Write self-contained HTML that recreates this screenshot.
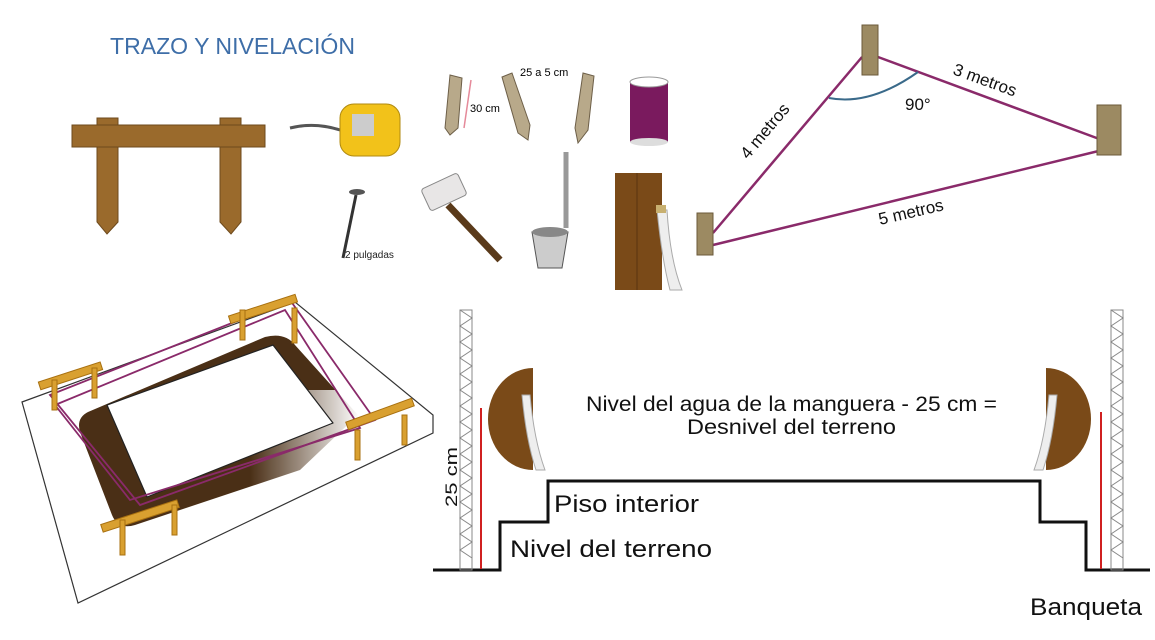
<!DOCTYPE html>
<html><head><meta charset="utf-8"><style>
html,body{margin:0;padding:0;background:#fff;}
svg{display:block;}
text{font-family:"Liberation Sans Narrow","Liberation Sans",sans-serif;}
</style></head><body>
<svg width="1155" height="640" viewBox="0 0 1155 640" xmlns="http://www.w3.org/2000/svg">
<defs>
<linearGradient id="fade" x1="0" y1="0" x2="1" y2="0">
<stop offset="0" stop-color="#fff" stop-opacity="0"/>
<stop offset="1" stop-color="#fff" stop-opacity="1"/>
</linearGradient>
</defs>
<rect width="1155" height="640" fill="#fff"/>
<!-- title -->
<text x="110" y="54" font-size="23" fill="#3e6ea8" textLength="245" lengthAdjust="spacingAndGlyphs">TRAZO Y NIVELACIÓN</text>
<!-- sawhorse -->
<g fill="#9a6a2c" stroke="#6e4a1c" stroke-width="1">
<polygon points="97,118 118,118 118,222 107,234 97,222"/>
<polygon points="220,118 241,118 241,222 231,234 220,222"/>
<rect x="72" y="125" width="193" height="22"/>
</g>
<!-- tape measure -->
<path d="M290,128 Q315,122 340,130" stroke="#555" stroke-width="3" fill="none"/>
<rect x="340" y="104" width="60" height="52" rx="14" fill="#f2c21a" stroke="#b08a10"/>
<rect x="352" y="114" width="22" height="22" fill="#ccc"/>
<!-- nail -->
<line x1="356" y1="195" x2="343" y2="258" stroke="#333" stroke-width="3"/>
<ellipse cx="357" cy="192" rx="8" ry="3" fill="#555"/>
<text x="345" y="258" font-size="10" fill="#222">2 pulgadas</text>
<!-- stakes -->
<g fill="#b8a98a" stroke="#6d5f48">
<polygon points="450,75 462,78 458,128 450,135 445,128"/>
<polygon points="502,77 512,73 530,125 528,140 518,133"/>
<polygon points="583,73 594,76 588,130 578,143 575,128"/>
</g>
<line x1="471" y1="80" x2="464" y2="128" stroke="#e58a9a" stroke-width="1.5"/>
<text x="470" y="112" font-size="11">30 cm</text>
<text x="520" y="76" font-size="11">25 a 5 cm</text>
<!-- spool -->
<rect x="630" y="82" width="38" height="60" fill="#7a1a5e"/>
<ellipse cx="649" cy="82" rx="19" ry="5" fill="#fff" stroke="#999"/>
<ellipse cx="649" cy="142" rx="19" ry="4" fill="#ddd"/>
<!-- hammer -->
<line x1="448" y1="205" x2="500" y2="260" stroke="#5a3a1a" stroke-width="7"/>
<rect x="424" y="180" width="40" height="24" rx="3" fill="#e8e6e6" stroke="#888" transform="rotate(-25 444 192)"/>
<!-- bucket -->
<path d="M566,152 L566,228" stroke="#999" stroke-width="5" fill="none"/>
<path d="M532,232 L568,232 L562,268 L538,268 Z" fill="#ccc" stroke="#555"/>
<ellipse cx="550" cy="232" rx="18" ry="5" fill="#888"/>
<!-- board + hose -->
<rect x="615" y="173" width="47" height="117" fill="#7a4a18"/>
<line x1="637" y1="173" x2="637" y2="290" stroke="#5a3410"/>
<path d="M657,210 Q662,260 670,290 L682,290 Q670,260 667,210 Z" fill="#eee" stroke="#aaa"/>
<rect x="656" y="205" width="10" height="8" fill="#c8b070"/>
<!-- triangle -->
<g stroke="#8a2a6a" stroke-width="2.5" fill="none">
<line x1="862" y1="57" x2="713" y2="233"/>
<line x1="878" y1="57" x2="1102" y2="140"/>
<line x1="713" y1="245" x2="1115" y2="147"/>
</g>
<path d="M829,98 Q870,106 918,72" stroke="#3a6a8a" stroke-width="2" fill="none"/>
<g fill="#9c8a62" stroke="#6b5a3a">
<rect x="862" y="25" width="16" height="50"/>
<rect x="1097" y="105" width="24" height="50"/>
<rect x="697" y="213" width="16" height="42"/>
</g>
<g font-size="17" fill="#111">
<text x="905" y="110">90°</text>
<text transform="translate(748,160) rotate(-50)">4 metros</text>
<text transform="translate(952,74) rotate(20)">3 metros</text>
<text transform="translate(880,225) rotate(-13)">5 metros</text>
</g>
<!-- 3D plot -->
<path d="M88,412 L265,337 Q285,332 295,345 L358,415 L300,470 L135,525 Q118,530 112,515 L80,432 Q76,418 88,412 Z" fill="#4a2f16"/>
<rect x="250" y="390" width="110" height="100" fill="url(#fade)"/>
<path d="M107,405 L273,345 L333,423 L147,497 Z" fill="#fff" stroke="#222" stroke-width="1.2" stroke-linejoin="round"/>
<polygon points="22,402 295,302 433,415 433,433 78,603" fill="none" stroke="#333" stroke-width="1.2"/>
<g stroke="#8a2a6a" stroke-width="1.8" fill="none">
<polygon points="50,395 290,300 375,420 140,505"/>
<polygon points="55,405 285,310 360,428 130,500"/>
</g>
<g fill="#d9a030" stroke="#a87010">
<rect x="38" y="372" width="65" height="8" transform="rotate(-18 70 376)"/>
<rect x="228" y="305" width="70" height="8" transform="rotate(-18 263 309)"/>
<rect x="345" y="410" width="70" height="8" transform="rotate(-20 380 414)"/>
<rect x="100" y="512" width="80" height="8" transform="rotate(-18 140 516)"/>
<rect x="52" y="380" width="5" height="30"/><rect x="92" y="368" width="5" height="30"/>
<rect x="240" y="310" width="5" height="30"/><rect x="292" y="308" width="5" height="35"/>
<rect x="355" y="430" width="5" height="30"/><rect x="402" y="415" width="5" height="30"/>
<rect x="120" y="520" width="5" height="35"/><rect x="172" y="505" width="5" height="30"/>
</g>
<!-- section diagram -->
<polyline points="433,570 500,570 500,522 548,522 548,481 1040,481 1040,522 1086,522 1086,570 1150,570" fill="none" stroke="#111" stroke-width="3"/>
<g stroke="#888" stroke-width="1" fill="none">
<rect x="460" y="310" width="12" height="260"/>
<rect x="1111" y="310" width="12" height="260"/>
<path d="M460,310 l12,8 l-12,8 l12,8 l-12,8 l12,8 l-12,8 l12,8 l-12,8 l12,8 l-12,8 l12,8 l-12,8 l12,8 l-12,8 l12,8 l-12,8 l12,8 l-12,8 l12,8 l-12,8 l12,8 l-12,8 l12,8 l-12,8 l12,8 l-12,8 l12,8 l-12,8 l12,8 l-12,8 l12,8"/>
<path d="M1111,310 l12,8 l-12,8 l12,8 l-12,8 l12,8 l-12,8 l12,8 l-12,8 l12,8 l-12,8 l12,8 l-12,8 l12,8 l-12,8 l12,8 l-12,8 l12,8 l-12,8 l12,8 l-12,8 l12,8 l-12,8 l12,8 l-12,8 l12,8 l-12,8 l12,8 l-12,8 l12,8 l-12,8 l12,8"/>
</g>
<line x1="481" y1="408" x2="481" y2="569" stroke="#d02020" stroke-width="2"/>
<line x1="1101" y1="412" x2="1101" y2="569" stroke="#d02020" stroke-width="2"/>
<path d="M533,368 A45,51 0 0 0 533,470 Z" fill="#7a4a18"/>
<path d="M1046,368 A45,51 0 0 1 1046,470 Z" fill="#7a4a18"/>
<path d="M522,395 Q526,440 536,470 L545,470 Q534,440 530,395 Z" fill="#eee" stroke="#aaa"/>
<path d="M1057,395 Q1053,440 1043,470 L1034,470 Q1045,440 1049,395 Z" fill="#eee" stroke="#aaa"/>
<g font-size="21" fill="#111">
<text x="586" y="411" textLength="411" lengthAdjust="spacingAndGlyphs">Nivel del agua de la manguera - 25 cm =</text>
<text x="687" y="434" textLength="209" lengthAdjust="spacingAndGlyphs">Desnivel del terreno</text>
<text x="554" y="512" font-size="24" textLength="145" lengthAdjust="spacingAndGlyphs">Piso interior</text>
<text x="510" y="557" font-size="24" textLength="202" lengthAdjust="spacingAndGlyphs">Nivel del terreno</text>
<text x="1030" y="615" font-size="24" textLength="112" lengthAdjust="spacingAndGlyphs">Banqueta</text>
<text transform="translate(457,507) rotate(-90)" font-size="17" textLength="60" lengthAdjust="spacingAndGlyphs">25 cm</text>
</g>
</svg>
</body></html>
